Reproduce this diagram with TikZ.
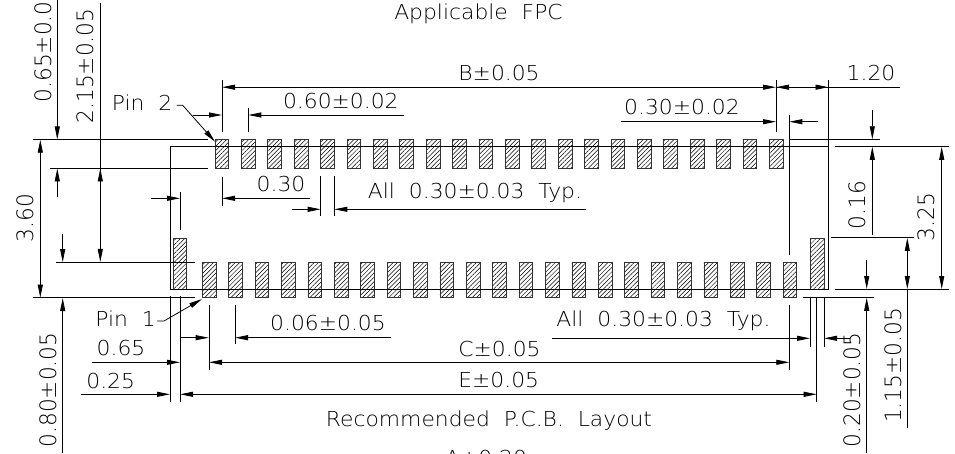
\documentclass[tikz,border=0pt]{standalone}
\usepackage{fontspec}
\usepackage{tikz}
\usetikzlibrary{arrows.meta,patterns.meta}
\newfontfamily\flatfont[FakeStretch=1.06]{DejaVu Sans ExtraLight}
\newfontfamily\uprightfont[FakeStretch=0.96]{DejaVu Sans ExtraLight}
\tikzset{
	flat/.style={font=\flatfont\fontsize{20.6pt}{22pt}\selectfont, inner sep=0pt, text height=15pt, text depth=0pt},
	turned/.style={font=\uprightfont\fontsize{22.6pt}{24pt}\selectfont, inner sep=0pt, rotate=90, text height=16.5pt, text depth=0pt},
	thin line/.style={line width = 0.8pt},
	heavy line/.style={line width = 1pt},
	tip/.style={-{Triangle[length=13pt,width=5pt]}, line width = 0.8pt},
	tips/.style={{Triangle[length=13pt,width=5pt]}-{Triangle[length=13pt,width=5pt]}, line width = 0.8pt},
	pad/.style={draw=black!80, line width = 0.8pt, pattern={Lines[angle=45,distance=3.1pt,line width=0.5pt]}}
}
\begin{document}
\begin{tikzpicture}[x=1pt,y=-1pt]
	\clip (0,0) rectangle (955,454);

	\foreach \i in {0,...,21}
		\draw[pad] ({215+26.4*\i},139.5) rectangle ({228.7+26.4*\i},168.2);
	\foreach \i in {0,...,22}
		\draw[pad] ({202.3+26.4*\i},262.4) rectangle ({216+26.4*\i},297.6);
	\draw[pad] (173.3,238.3) rectangle (186.7,289);
	\draw[pad] (810.7,238.3) rectangle (824,289);

	\draw[thin line] (170,146.5) -- (828.5,146.5);
	\draw[thin line] (170,289) -- (828.5,289);
	\draw[thin line] (170,146.5) -- (170,289);
	\draw[thin line] (828.5,80) -- (828.5,289);

	\draw[thin line] (33,139.5) -- (208,139.5);
	\draw[thin line] (50,168.3) -- (208,168.3);
	\draw[thin line] (56,262.4) -- (195,262.4);
	\draw[thin line] (33,297.7) -- (195,297.7);
	\draw[thin line] (789.3,139.3) -- (880,139.3);
	\draw[thin line] (835,146.5) -- (949,146.5);
	\draw[thin line] (831,237.8) -- (914,237.8);
	\draw[thin line] (835,289) -- (949,289);
	\draw[thin line] (803.3,297.5) -- (874,297.5);

	\draw[thin line] (222,80) -- (222,131.7);
	\draw[heavy line] (776,80) -- (776,131.7);
	\draw[thin line] (248.3,108.3) -- (248.3,131.7);
	\draw[thin line] (789.3,115) -- (789.3,255);
	\draw[thin line] (222,176.7) -- (222,206);
	\draw[thin line] (320.7,176) -- (320.7,216);
	\draw[thin line] (334.3,176) -- (334.3,216);
	\draw[thin line] (180,191.7) -- (180,230);
	\draw[thin line] (170,296) -- (170,401.7);
	\draw[heavy line] (180,296) -- (180,401.7);
	\draw[thin line] (209,305) -- (209,370);
	\draw[thin line] (235,305) -- (235,344);
	\draw[thin line] (789.3,305) -- (789.3,370);
	\draw[thin line] (810,296.7) -- (810,346.7);
	\draw[thin line] (816.7,296.7) -- (816.7,401.7);
	\draw[thin line] (824,296.7) -- (824,346.7);

	\draw[tips] (40.3,139.7) -- (40.3,297.7);
	\draw[tip] (57.3,-2) -- (57.3,139.5);
	\draw[tip] (57.3,196.7) -- (57.3,168.5);
	\draw[tip] (100.3,3) -- (100.3,262);
	\draw[tip] (100.3,190) -- (100.3,168.5);
	\draw[tip] (62.7,234.3) -- (62.7,262.2);
	\draw[tip] (62.7,453) -- (62.7,298);
	\draw[tip] (872.3,110.3) -- (872.3,139.3);
	\draw[tip] (872.3,235) -- (872.3,146.8);
	\draw[tips] (941.7,146.8) -- (941.7,289);
	\draw[tips] (907.3,238) -- (907.3,289);
	\draw[thin line] (907.3,289) -- (907.3,427.7);
	\draw[tip] (866.7,260) -- (866.7,289);
	\draw[tip] (866.7,453) -- (866.7,297.8);

	\draw[tips] (222,87.2) -- (776,87.2);
	\draw[tip] (828.5,87.2) -- (776,87.2);
	\draw[tip] (776,87.2) -- (828.5,87.2);
	\draw[thin line] (828.5,87.2) -- (900,87.2);
	\draw[tip] (404,115) -- (248.3,115);
	\draw[tip] (192.7,115) -- (222,115);
	\draw[tip] (620.7,121.7) -- (776,121.7);
	\draw[tip] (818.3,121.7) -- (789.3,121.7);
	\draw[tip] (310,198.3) -- (222,198.3);
	\draw[tip] (291.7,209.3) -- (320.7,209.3);
	\draw[tip] (586,209.3) -- (334.3,209.3);
	\draw[tip] (150.7,198.3) -- (180,198.3);
	\draw[tip] (180,337.7) -- (208.7,337.7);
	\draw[tip] (390.7,337.7) -- (235,337.7);
	\draw[tip] (91.7,362.3) -- (180,362.3);
	\draw[tips] (209,362.3) -- (789.3,362.3);
	\draw[tip] (80.7,394.3) -- (170,394.3);
	\draw[tips] (180,394.3) -- (816.7,394.3);
	\draw[tip] (552.3,338.3) -- (810,338.3);
	\draw[tip] (850,338.3) -- (824,338.3);

	\draw[tip] (176.7,105.3) -- (182.7,105.3) -- (215,141.7);
	\draw[tip] (157,321) -- (164,321) -- (202,299);

	\node[flat] (fpc) at (478.5,11.7) {Applicable\ \ FPC};
	\node[flat] (blabel) at (499,73) {B±0.05};
	\node[flat] (widthlabel) at (871,73.3) {1.20};
	\node[flat] (pitchtop) at (340.8,101) {0.60±0.02};
	\node[flat] (offsettop) at (682,107.5) {0.30±0.02};
	\node[flat] (pintwo) at (142,103.5) {Pin\ \ 2};
	\node[flat] (gaptop) at (281,184) {0.30};
	\node[flat] (alltop) at (475,190.8) {All\ \ 0.30±0.03\ \ Typ.};
	\node[flat] (pinone) at (125.5,318.5) {Pin\ \ 1};
	\node[flat] (offsetbot) at (328,323) {0.06±0.05};
	\node[flat] (allbot) at (663.5,319) {All\ \ 0.30±0.03\ \ Typ.};
	\node[flat] (sideleft) at (121,348) {0.65};
	\node[flat] (clabel) at (499.5,348.5) {C±0.05};
	\node[flat] (edgeleft) at (110.7,380.8) {0.25};
	\node[flat] (elabel) at (498.7,380) {E±0.05};
	\node[flat] (layout) at (489,418.5) {Recommended\ \ P.C.B.\ \ Layout};
	\node[flat] (alabel) at (486,458) {A±0.20};

	\node[turned] (height) at (25.5,218) {3.60};
	\node[turned] (rowtop) at (43.5,45) {0.65±0.05};
	\node[turned] (rowspan) at (85.7,66) {2.15±0.05};
	\node[turned] (rowbot) at (48.7,390) {0.80±0.05};
	\node[turned] (lip) at (857.3,205) {0.16};
	\node[turned] (span) at (926.7,217) {3.25};
	\node[turned] (tallpad) at (893.3,365.5) {1.15±0.05};
	\node[turned] (gapbot) at (852.7,390) {0.20±0.05};
\end{tikzpicture}
\end{document}
